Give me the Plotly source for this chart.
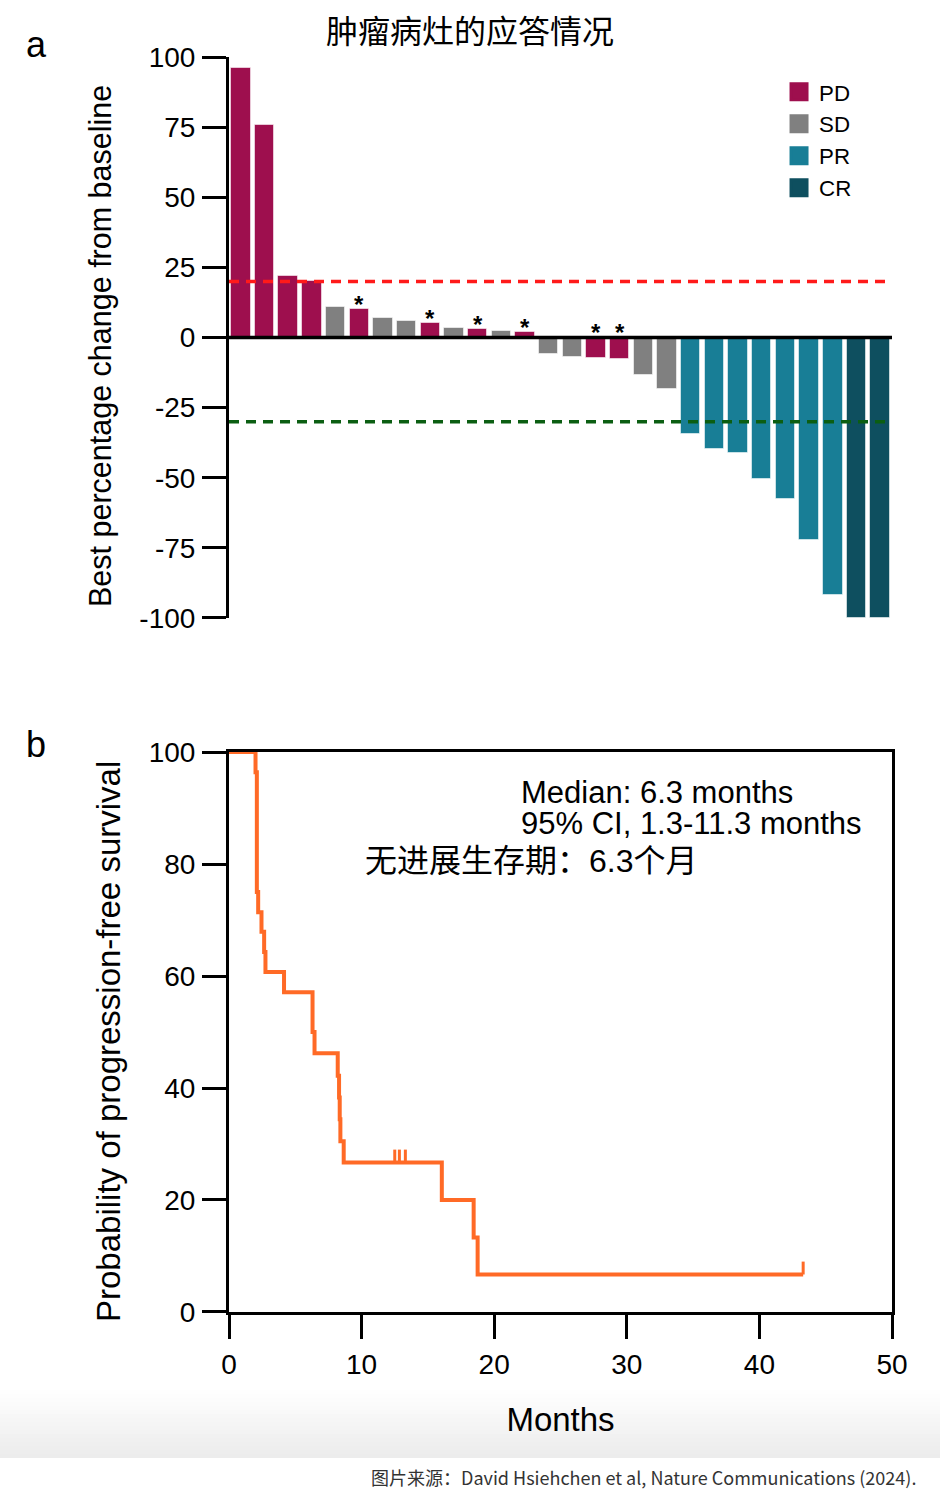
import plotly.graph_objects as go

# ---------------- Panel a: waterfall data ----------------
patients = list(range(1, 29))
best_change = [96.0, 75.6, 22.0, 20.3, 11.0, 10.1, 6.9, 5.8, 5.0, 3.5, 3.2, 2.4, 2.0,
               -5.8, -6.9, -7.4, -7.8, -13.4, -18.2, -34.5, -39.7, -41.1, -50.4, -57.6,
               -72.3, -91.9, -100.0, -100.0]
response = ["PD", "PD", "PD", "PD", "SD", "PD", "SD", "SD", "PD", "SD", "PD", "SD", "PD",
            "SD", "SD", "PD", "PD", "SD", "SD", "PR", "PR", "PR", "PR", "PR", "PR", "PR",
            "CR", "CR"]
starred_patients = [6, 9, 11, 13, 16, 17]
pd_threshold = 20
pr_threshold = -30
categories = ["PD", "SD", "PR", "CR"]
cat_colors = ["#9E0F4E", "#808080", "#187E96", "#0E4F5F"]
y_ticks_a = [100, 75, 50, 25, 0, -25, -50, -75, -100]
y_tick_labels_a = ["100", "75", "50", "25", "0", "-25", "-50", "-75", "-100"]

# ---------------- Panel b: Kaplan-Meier PFS data ----------------
km_months = [0, 2.0, 2.1, 2.2, 2.45, 2.65, 2.75, 4.15, 6.3, 6.45,
             8.2, 8.3, 8.35, 8.4, 8.65, 16.05, 18.45, 18.75, 43.3]
km_pfs = [100, 96.4, 75.0, 71.4, 67.9, 64.3, 60.7, 57.1, 50.0, 46.2,
          42.2, 38.3, 34.4, 30.5, 26.7, 20.0, 13.3, 6.7, 6.7]
censor_months = [12.5, 12.85, 13.3, 43.3]
censor_pfs = [26.7, 26.7, 26.7, 6.7]
x_ticks_b = [0, 10, 20, 30, 40, 50]
y_ticks_b = [0, 20, 40, 60, 80, 100]

LATIN = "Liberation Sans, Arial, Helvetica, sans-serif"
CJK = "Noto Sans CJK SC, sans-serif"
MIXED = "Liberation Sans, Noto Sans CJK SC, sans-serif"

fig = go.Figure()

# bars, one trace per response category
for cat, col in zip(categories, cat_colors):
    xs = [p for p, r in zip(patients, response) if r == cat]
    ys = [v for v, r in zip(best_change, response) if r == cat]
    fig.add_trace(go.Bar(
        x=xs, y=ys, name=cat, legendgroup=cat, showlegend=False,
        marker=dict(color=col, line=dict(color="rgba(255,255,255,0.55)", width=1)),
        width=0.82, xaxis="x", yaxis="y", hoverinfo="x+y"))
    # legend swatch
    fig.add_trace(go.Scatter(
        x=[None], y=[None], mode="markers", name=cat, legendgroup=cat,
        marker=dict(symbol="square", size=16, color=col, line=dict(color=col, width=3)),
        xaxis="x", yaxis="y"))

# threshold lines and zero line
fig.add_hline(y=pd_threshold, line=dict(color="#FF1A1A", width=3.5, dash="10px,7px"),
              xref="x", yref="y", layer="above")
fig.add_hline(y=pr_threshold, line=dict(color="#0B5E12", width=3.5, dash="10px,7px"),
              xref="x", yref="y", layer="above")
fig.add_hline(y=0, line=dict(color="black", width=3.5), xref="x", yref="y", layer="above")

# asterisks
for p in starred_patients:
    v = best_change[patients.index(p)]
    fig.add_annotation(x=p, y=max(v, 0), xref="x", yref="y", text="<b>*</b>",
                       showarrow=False, yanchor="bottom", yshift=-11,
                       font=dict(family=LATIN, size=24, color="black"))

# KM curve
fig.add_trace(go.Scatter(
    x=km_months, y=km_pfs, mode="lines", line=dict(color="#FF6A26", width=4, shape="hv"),
    showlegend=False, xaxis="x2", yaxis="y2"))
# censor ticks
cx, cy = [], []
for t, s in zip(censor_months, censor_pfs):
    cx += [t, t, None]
    cy += [s, s + 2.3, None]
fig.add_trace(go.Scatter(
    x=cx, y=cy, mode="lines", line=dict(color="#FF6A26", width=3),
    showlegend=False, xaxis="x2", yaxis="y2", hoverinfo="skip"))

# annotations panel b
fig.add_annotation(x=21.87, y=92.9, xref="x2", yref="y2", xanchor="left", yanchor="middle",
                   showarrow=False, text="Median: 6.3 months", height=30,
                   font=dict(family=LATIN, size=31, color="black"))
fig.add_annotation(x=21.87, y=87.4, xref="x2", yref="y2", xanchor="left", yanchor="middle",
                   showarrow=False, text="95% CI, 1.3-11.3 months", height=30,
                   font=dict(family=LATIN, size=31, color="black"))
fig.add_annotation(x=10.12, y=80.5, xref="x2", yref="y2", xanchor="left", yanchor="middle",
                   showarrow=False, text="无进展生存期：6.3个月",
                   font=dict(family=MIXED, size=32, color="black"))

# axis titles (placed as rotated annotations)
fig.add_annotation(x=(100 - 229) / 663, y=(1312 - 346) / 1255, xref="paper", yref="paper",
                   text="Best percentage change from baseline", textangle=-90, showarrow=False,
                   xanchor="center", yanchor="middle",
                   font=dict(family=LATIN, size=30.5, color="black"))
fig.add_annotation(x=(108 - 229) / 663, y=(1312 - 1042) / 1255, xref="paper", yref="paper",
                   text="Probability of progression-free survival", textangle=-90, showarrow=False,
                   xanchor="center", yanchor="middle",
                   font=dict(family=LATIN, size=33, color="black"))

# panel letters
fig.add_annotation(x=-0.2911, y=1.0096, xref="paper", yref="paper", text="a", showarrow=False,
                   xanchor="center", yanchor="middle", font=dict(family=LATIN, size=36, color="black"))
fig.add_annotation(x=-0.2911, y=0.4518, xref="paper", yref="paper", text="b", showarrow=False,
                   xanchor="center", yanchor="middle", font=dict(family=LATIN, size=36, color="black"))

# footer source
fig.add_annotation(x=1.0392, y=-0.1315, xref="paper", yref="paper", xanchor="right", yanchor="middle",
                   showarrow=False,
                   text="图片来源：David Hsiehchen et al, Nature Communications (2024).",
                   font=dict(family=CJK, size=18, color="#333333"))

# soft gray band behind the "Months" area
n_strips = 17
top_px, bot_px = 1390.0, 1458.0
for i in range(n_strips):
    y0 = top_px + (bot_px - top_px) * i / n_strips
    y1 = top_px + (bot_px - top_px) * (i + 1) / n_strips
    g = int(round(255 - 20 * (i + 0.5) / n_strips))
    fig.add_shape(type="rect", xref="paper", yref="paper",
                  x0=-229 / 663, x1=(940 - 229) / 663,
                  y0=(1312 - y1) / 1255, y1=(1312 - y0) / 1255,
                  fillcolor=f"rgb({g},{g},{g})", line=dict(width=0), layer="below")

axis_font = dict(family=LATIN, size=28, color="black")
fig.update_layout(
    width=940, height=1498,
    margin=dict(l=229, r=48, t=57, b=186, autoexpand=False),
    paper_bgcolor="white", plot_bgcolor="rgba(0,0,0,0)",
    font=dict(family=LATIN, color="black"),
    title=dict(text="肿瘤病灶的应答情况", x=0.5, xref="container", xanchor="center",
               y=1 - 32 / 1498, yref="container", yanchor="middle",
               font=dict(family=CJK, size=32, color="black")),
    bargap=0,
    legend=dict(x=0.8296, y=0.989, xanchor="left", yanchor="top",
                bgcolor="rgba(0,0,0,0)", font=dict(family=LATIN, size=22.3, color="black"),
                tracegroupgap=0),
    xaxis=dict(domain=[0, 1], anchor="y", range=[0.5, 28.5], showline=False,
               showticklabels=False, ticks="", showgrid=False, zeroline=False),
    yaxis=dict(domain=[0.553, 1], anchor="x", range=[-100, 100],
               tickvals=y_ticks_a, ticktext=y_tick_labels_a,
               ticks="outside", ticklen=24, tickwidth=3, tickcolor="black",
               showline=True, linewidth=3, linecolor="black", showgrid=False, zeroline=False,
               tickfont=axis_font, ticklabelstandoff=1),
    xaxis2=dict(domain=[0, 1], anchor="y2", range=[0, 50], tickvals=x_ticks_b,
                ticks="outside", ticklen=24, tickwidth=3, tickcolor="black",
                showline=True, linewidth=3, linecolor="black", mirror=True,
                showgrid=False, zeroline=False, tickfont=axis_font, ticklabelstandoff=1,
                title=dict(text="Months", font=dict(family=LATIN, size=33, color="black"),
                           standoff=30)),
    yaxis2=dict(domain=[0, 0.4462], anchor="x2", range=[0, 100], tickvals=y_ticks_b,
                ticks="outside", ticklen=24, tickwidth=3, tickcolor="black",
                showline=True, linewidth=3, linecolor="black", mirror=True,
                showgrid=False, zeroline=False, tickfont=axis_font, ticklabelstandoff=1),
)

fig.write_html("out.html", config={"displayModeBar": False},
               post_script="document.body.style.margin='0';")
